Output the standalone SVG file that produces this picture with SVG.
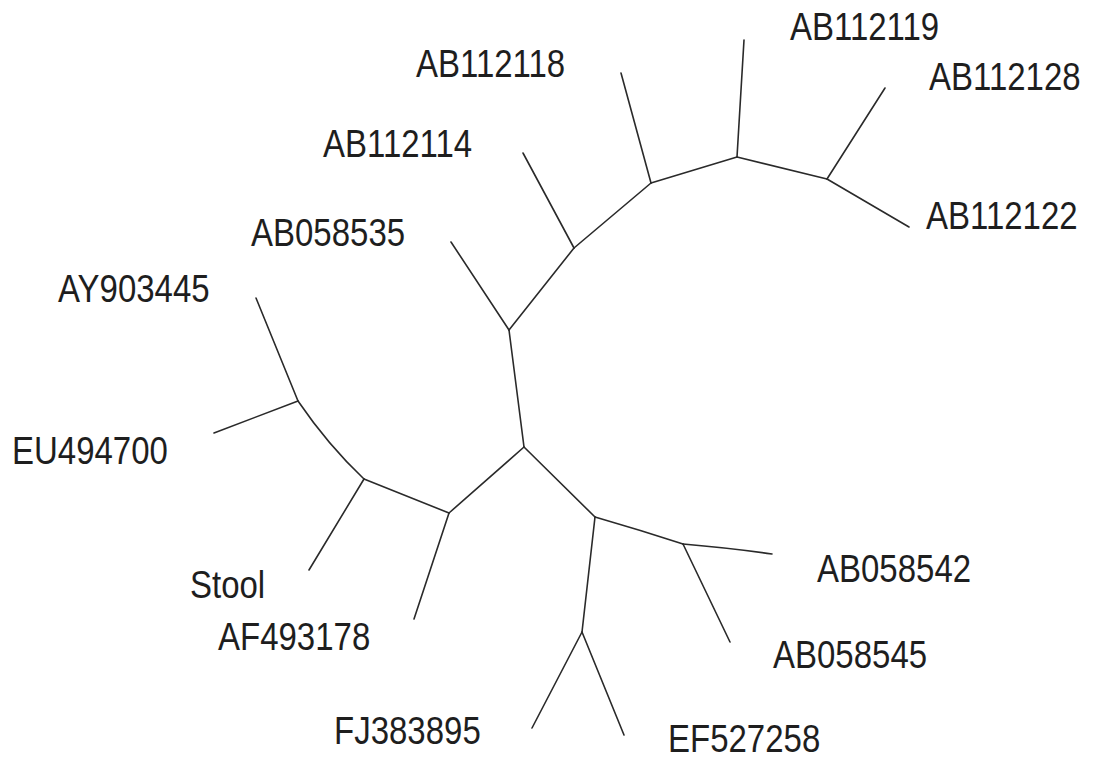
<svg xmlns="http://www.w3.org/2000/svg" width="1111" height="763" viewBox="0 0 1111 763">
<style>
.e{stroke:#2a2a2a;stroke-width:1.6;fill:none;stroke-linecap:round}
.t{font-family:"Liberation Sans",Arial,sans-serif;font-size:33px;fill:#1e1e1e}
</style>
<rect width="1111" height="763" fill="#ffffff"/>
<g id="connectors">
<path class="e" d="M524,447 L509,330"/>
<path class="e" d="M509,330 L451,242"/>
<path class="e" d="M509,330 L574,248"/>
<path class="e" d="M574,248 L523,153"/>
<path class="e" d="M574,248 L651,183"/>
<path class="e" d="M651,183 L621,73"/>
<path class="e" d="M651,183 L737,157"/>
<path class="e" d="M737,157 L744,40"/>
<path class="e" d="M737,157 L827,179"/>
<path class="e" d="M827,179 L885,88"/>
<path class="e" d="M827,179 L909,227"/>
<path class="e" d="M524,447 L449,513"/>
<path class="e" d="M449,513 L414,619"/>
<path class="e" d="M449,513 L364,479"/>
<path class="e" d="M364,479 L309,570"/>
<path class="e" d="M364,479 Q328,445 298,401"/>
<path class="e" d="M298,401 L256,298"/>
<path class="e" d="M298,401 L214,433"/>
<path class="e" d="M524,447 L595,517"/>
<path class="e" d="M595,517 Q640,530 683,544"/>
<path class="e" d="M683,544 Q730,548 772,554"/>
<path class="e" d="M683,544 L730,642"/>
<path class="e" d="M595,517 L582,632"/>
<path class="e" d="M582,632 L532,728"/>
<path class="e" d="M582,632 L624,735"/>
</g>
<g id="AB112119"><text class="t" transform="translate(790,40) scale(1,1.2)">AB112119</text></g>
<g id="AB112118"><text class="t" transform="translate(416,77) scale(1,1.2)">AB112118</text></g>
<g id="AB112128"><text class="t" transform="translate(929,90) scale(1,1.2)">AB112128</text></g>
<g id="AB112114"><text class="t" transform="translate(323,157) scale(1,1.2)">AB112114</text></g>
<g id="AB058535"><text class="t" transform="translate(251,246) scale(1,1.2)">AB058535</text></g>
<g id="AB112122"><text class="t" transform="translate(926,229) scale(1,1.2)">AB112122</text></g>
<g id="AY903445"><text class="t" transform="translate(58,302) scale(1,1.2)">AY903445</text></g>
<g id="EU494700"><text class="t" transform="translate(12,464) scale(1,1.2)">EU494700</text></g>
<g id="Stool"><text class="t" transform="translate(190,598) scale(1,1.2)">Stool</text></g>
<g id="AF493178"><text class="t" transform="translate(218,650) scale(1,1.2)">AF493178</text></g>
<g id="AB058542"><text class="t" transform="translate(817,582) scale(1,1.2)">AB058542</text></g>
<g id="AB058545"><text class="t" transform="translate(773,668) scale(1,1.2)">AB058545</text></g>
<g id="FJ383895"><text class="t" transform="translate(334,744) scale(1,1.2)">FJ383895</text></g>
<g id="EF527258"><text class="t" transform="translate(668,752) scale(1,1.2)">EF527258</text></g>
</svg>
